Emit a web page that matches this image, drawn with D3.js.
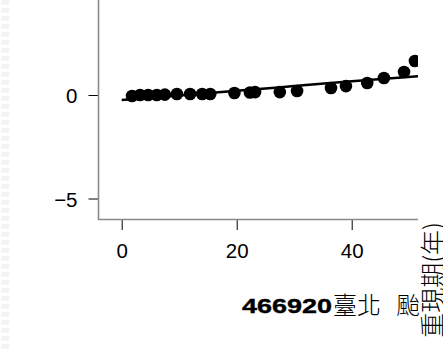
<!DOCTYPE html>
<html>
<head>
<meta charset="utf-8">
<script src="https://cdn.jsdelivr.net/npm/d3@7"></script>
<style>
html,body{margin:0;padding:0;background:#fff;overflow:hidden;}
svg{display:block;}
</style>
</head>
<body>
<svg id="chart" width="443" height="349"></svg>
<script>
// Observed points (return period in years, value)
const pointX = [1.8, 3.2, 4.6, 6.1, 7.5, 9.6, 11.9, 14.0, 15.4, 19.6, 22.3, 23.2, 27.5, 30.5, 36.4, 39.0, 42.7, 45.6, 49.1, 51.0];
const pointY = [-0.05, 0.0, 0.0, 0.0, 0.02, 0.05, 0.05, 0.05, 0.05, 0.1, 0.12, 0.14, 0.14, 0.19, 0.34, 0.43, 0.58, 0.82, 1.11, 1.64];
// Fitted line
const lineX = [0, 10, 20, 30, 40, 52];
const lineY = [-0.24, -0.02, 0.20, 0.43, 0.66, 0.91];
// Axis ticks
const xTicks = [0, 20, 40];
const yTicks = [-5, 0, 5];
const titleCode = "466920";
const titleName = "臺北";
const titleRest = "颱";
const xAxisTitle = "重現期(年)";

const svg = d3.select("#chart");
const x = d3.scaleLinear().domain([0, 20]).range([121.7, 236.7]);
const y = d3.scaleLinear().domain([0, -5]).range([95, 198.5]);

// faint left border pattern
svg.append("line").attr("x1", 5).attr("x2", 5).attr("y1", 0).attr("y2", 349)
  .attr("stroke", "#f3f3f3").attr("stroke-width", 8).attr("stroke-dasharray", "5,3");

const font = "'Liberation Sans', Arial, sans-serif";

// y axis
const gy = svg.append("g").attr("transform", "translate(98.5,0)")
  .call(d3.axisLeft(y).tickValues(yTicks).tickSize(10).tickPadding(11).tickFormat(d3.format("d")));
gy.select(".domain").remove();
gy.selectAll("text").attr("font-family", font).attr("font-size", 20.5).attr("fill", "#000").attr("dy", "0.38em");
gy.selectAll("line").attr("stroke", "#000");

// x axis
const gx = svg.append("g").attr("transform", "translate(0,219)")
  .call(d3.axisBottom(x).tickValues(xTicks).tickSize(11).tickPadding(13).tickFormat(d3.format("d")));
gx.select(".domain").remove();
gx.selectAll("text").attr("font-family", font).attr("font-size", 20.5).attr("fill", "#000");
gx.selectAll("line").attr("stroke", "#000");

// L-shaped frame
svg.append("path").attr("d", "M98.5,0V219.5H418").attr("fill", "none")
  .attr("stroke", "#8a8a8a").attr("stroke-width", 1.6);

// clip for plot region
svg.append("clipPath").attr("id", "plotclip").append("rect")
  .attr("x", 99).attr("y", 0).attr("width", 319).attr("height", 219);
const plot = svg.append("g").attr("clip-path", "url(#plotclip)");

const lineData = lineX.map((d, i) => [d, lineY[i]]);
plot.append("path").datum(lineData)
  .attr("d", d3.line().x(d => x(d[0])).y(d => y(d[1])).curve(d3.curveMonotoneX))
  .attr("fill", "none").attr("stroke", "#000").attr("stroke-width", 2.5);

plot.selectAll("circle").data(pointX.map((d, i) => [d, pointY[i]])).join("circle")
  .attr("cx", d => x(d[0])).attr("cy", d => y(d[1])).attr("r", 6.3).attr("fill", "#000");

// title
svg.append("text").attr("x", 242).attr("y", 313).attr("font-family", font)
  .attr("font-weight", "bold").attr("font-size", 21).attr("fill", "#000")
  .attr("stroke", "#000").attr("stroke-width", 0.4)
  .attr("textLength", 90).attr("lengthAdjust", "spacingAndGlyphs").text(titleCode);
svg.append("text").attr("x", 333).attr("y", 314).attr("font-family", "'Noto Sans CJK TC', sans-serif")
  .attr("font-weight", 300).attr("font-size", 24).attr("fill", "#000").text(titleName);
svg.append("text").attr("x", 396).attr("y", 314).attr("font-family", "'Noto Sans CJK TC', sans-serif")
  .attr("font-weight", 300).attr("font-size", 24).attr("fill", "#000").text(titleRest);

// rotated axis title
svg.append("text").attr("transform", "translate(442,222) rotate(-90)")
  .attr("text-anchor", "end").attr("font-family", "'Noto Sans CJK TC', sans-serif")
  .attr("font-weight", 300).attr("font-size", 25).attr("fill", "#000").text(xAxisTitle);
</script>
</body>
</html>
